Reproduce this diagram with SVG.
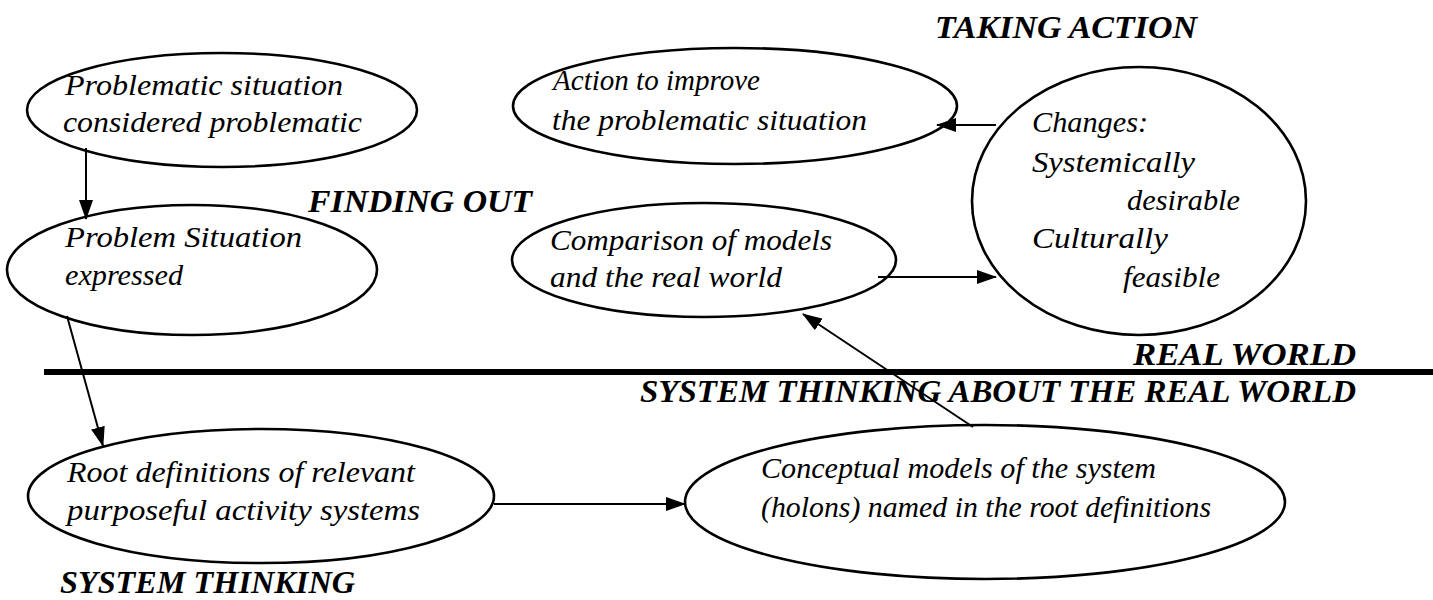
<svg xmlns="http://www.w3.org/2000/svg" width="1433" height="600" viewBox="0 0 1433 600">
<style>
.node{fill:#fff;stroke:#000;stroke-width:2.6}
.t{font-family:"Liberation Serif","Times New Roman",serif;font-style:italic;font-size:30px;fill:#000}
.lbl{font-family:"Liberation Serif","Times New Roman",serif;font-style:italic;font-weight:bold;font-size:31px;fill:#000}
.conn{stroke:#000;stroke-width:2;fill:none;marker-end:url(#ah)}
</style>
<defs>
<marker id="ah" markerUnits="userSpaceOnUse" markerWidth="20" markerHeight="14" refX="19" refY="7" orient="auto">
<path d="M0,0 L20,7 L0,14 z" fill="#000"/>
</marker>
</defs>
<rect width="1433" height="600" fill="#fff"/>

<g id="labels">
<text class="lbl" x="935" y="38" textLength="262" lengthAdjust="spacingAndGlyphs">TAKING ACTION</text>
<text class="lbl" x="308" y="212" textLength="224" lengthAdjust="spacingAndGlyphs">FINDING OUT</text>
<text class="lbl" x="1133" y="365" textLength="223" lengthAdjust="spacingAndGlyphs">REAL WORLD</text>
<text class="lbl" x="640" y="402" textLength="716" lengthAdjust="spacingAndGlyphs">SYSTEM THINKING ABOUT THE REAL WORLD</text>
<text class="lbl" x="60" y="593" textLength="295" lengthAdjust="spacingAndGlyphs">SYSTEM THINKING</text>
</g>

<g id="divider">
<line x1="44" y1="372" x2="1433" y2="372" stroke="#000" stroke-width="6"/>
</g>

<g id="n-problematic">
<ellipse class="node" cx="222" cy="110" rx="195" ry="57"/>
<text class="t" x="65" y="95" textLength="278" lengthAdjust="spacingAndGlyphs">Problematic situation</text>
<text class="t" x="63" y="132" textLength="299" lengthAdjust="spacingAndGlyphs">considered problematic</text>
</g>

<g id="n-expressed">
<ellipse class="node" cx="192" cy="270" rx="185" ry="65"/>
<text class="t" x="65" y="247" textLength="237" lengthAdjust="spacingAndGlyphs">Problem Situation</text>
<text class="t" x="65" y="285" textLength="118" lengthAdjust="spacingAndGlyphs">expressed</text>
</g>

<g id="n-action">
<ellipse class="node" cx="735" cy="106" rx="222" ry="58"/>
<text class="t" x="553" y="90" textLength="207" lengthAdjust="spacingAndGlyphs">Action to improve</text>
<text class="t" x="552" y="130" textLength="315" lengthAdjust="spacingAndGlyphs">the problematic situation</text>
</g>

<g id="n-comparison">
<ellipse class="node" cx="704" cy="260" rx="192" ry="57"/>
<text class="t" x="550" y="250" textLength="282" lengthAdjust="spacingAndGlyphs">Comparison of models</text>
<text class="t" x="550" y="287" textLength="232" lengthAdjust="spacingAndGlyphs">and the real world</text>
</g>

<g id="n-changes">
<ellipse class="node" cx="1139" cy="201" rx="167" ry="134"/>
<text class="t" x="1032" y="132" textLength="116" lengthAdjust="spacingAndGlyphs">Changes:</text>
<text class="t" x="1032" y="172" textLength="163" lengthAdjust="spacingAndGlyphs">Systemically</text>
<text class="t" x="1127" y="210" textLength="113" lengthAdjust="spacingAndGlyphs">desirable</text>
<text class="t" x="1032" y="248" textLength="136" lengthAdjust="spacingAndGlyphs">Culturally</text>
<text class="t" x="1123" y="287" textLength="97" lengthAdjust="spacingAndGlyphs">feasible</text>
</g>

<g id="n-root">
<ellipse class="node" cx="261" cy="496" rx="233" ry="67"/>
<text class="t" x="67" y="482" textLength="348" lengthAdjust="spacingAndGlyphs">Root definitions of relevant</text>
<text class="t" x="67" y="520" textLength="353" lengthAdjust="spacingAndGlyphs">purposeful activity systems</text>
</g>

<g id="n-conceptual">
<ellipse class="node" cx="985" cy="502" rx="300" ry="77"/>
<text class="t" x="761" y="478" textLength="395" lengthAdjust="spacingAndGlyphs">Conceptual models of the system</text>
<text class="t" x="761" y="517" textLength="450" lengthAdjust="spacingAndGlyphs">(holons) named in the root definitions</text>
</g>

<g id="connectors">
<line class="conn" x1="86" y1="148" x2="86" y2="219"/>
<line class="conn" x1="67" y1="316" x2="103" y2="446"/>
<line class="conn" x1="494" y1="504" x2="685" y2="504"/>
<line class="conn" x1="973" y1="427" x2="803" y2="314"/>
<line class="conn" x1="878" y1="277" x2="996" y2="277"/>
<line class="conn" x1="996" y1="125" x2="937" y2="125"/>
</g>
</svg>
